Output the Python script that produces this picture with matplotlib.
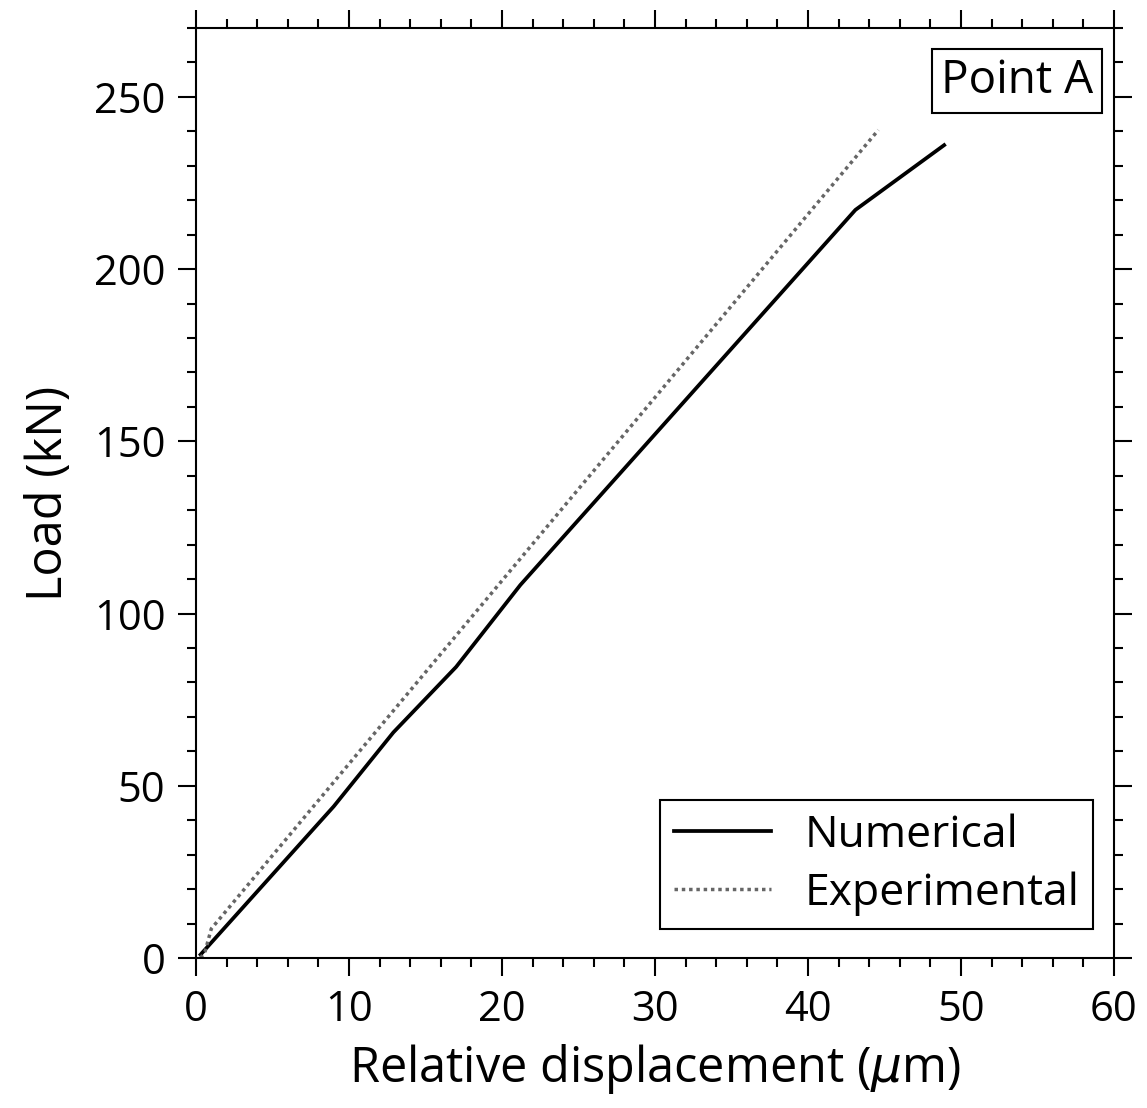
import matplotlib.pyplot as plt
import numpy as np
from matplotlib.ticker import MultipleLocator

# values
num_x = [0.3, 9.0, 12.9, 17.0, 21.2, 43.1, 48.9]
num_y = [1.0, 44.0, 65.5, 84.5, 108.3, 217.2, 236.0]
exp_x = [0.3, 0.6, 1.0, 44.6]
exp_y = [0.0, 2.0, 8.5, 240.4]

if __name__ == "__main__":
    plt.rcParams["font.family"] = ["Open Sans", "DejaVu Sans"]
    fig = plt.figure(figsize=(11.47, 11.08), dpi=100)
    ax = fig.add_axes([0.1709, 0.1354, 0.8003, 0.8393])

    ax.plot(num_x, num_y, color="black", lw=2.7, label="Numerical")
    ax.plot(exp_x, exp_y, color="#666666", lw=2.5, ls=(0, (1, 1.1)), label="Experimental")

    ax.set_xlim(0, 60)
    ax.set_ylim(0, 270)
    ax.xaxis.set_major_locator(MultipleLocator(10))
    ax.xaxis.set_minor_locator(MultipleLocator(2))
    ax.yaxis.set_major_locator(MultipleLocator(50))
    ax.yaxis.set_minor_locator(MultipleLocator(10))
    ax.tick_params(which="both", direction="out", top=True, right=True,
                   width=1.5, labelsize=30)
    ax.tick_params(which="major", length=13, pad=9)
    ax.tick_params(which="minor", length=6.5)
    for s in ax.spines.values():
        s.set_linewidth(1.5)

    ax.set_xlabel("Relative displacement ($\\mu$m)", fontsize=35, labelpad=8)
    ax.set_ylabel("Load (kN)", fontsize=35, labelpad=14)

    ax.text(0.977, 0.968, "Point A", transform=ax.transAxes, ha="right", va="top",
            fontsize=33,
            bbox=dict(boxstyle="square,pad=0.2", fc="white", ec="black", lw=1.5))

    leg = ax.legend(loc="lower right", bbox_to_anchor=(0.977, 0.031), fontsize=32,
                    fancybox=False, framealpha=1, edgecolor="black",
                    handlelength=2.2, handletextpad=0.75, borderpad=0.3,
                    labelspacing=0.3, borderaxespad=0)
    leg.get_frame().set_linewidth(1.5)

    fig.savefig("out.png", dpi=100)
